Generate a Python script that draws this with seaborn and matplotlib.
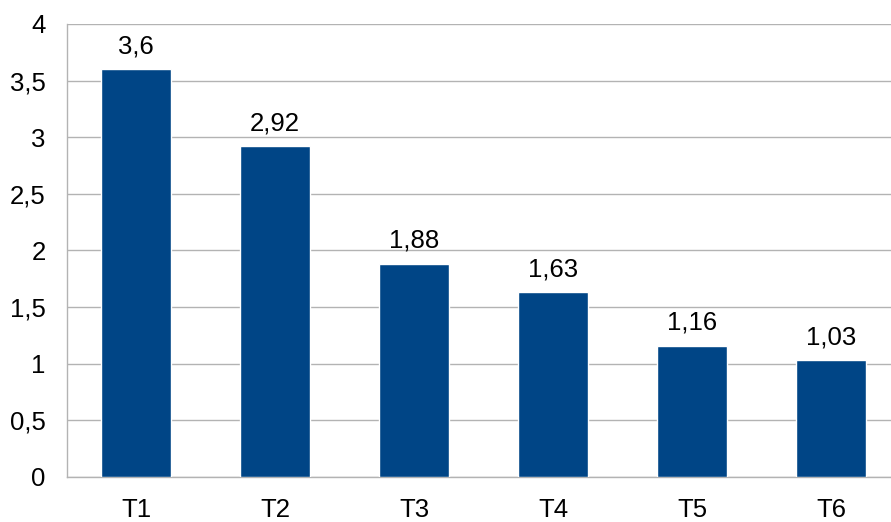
import matplotlib
matplotlib.use("Agg")
import matplotlib.pyplot as plt
import seaborn as sns
import pandas as pd
import numpy as np

categories = ["T1", "T2", "T3", "T4", "T5", "T6"]
values = [3.6, 2.92, 1.88, 1.63, 1.16, 1.03]
value_labels = ["3,6", "2,92", "1,88", "1,63", "1,16", "1,03"]
y_ticks = [0, 0.5, 1, 1.5, 2, 2.5, 3, 3.5, 4]
y_tick_labels = ["0", "0,5", "1", "1,5", "2", "2,5", "3", "3,5", "4"]

df = pd.DataFrame({"cat": categories, "val": values})

sns.set_style("white")
plt.rcParams['font.family'] = ['Liberation Sans', 'DejaVu Sans']
plt.rcParams['text.color'] = 'black'
plt.rcParams['xtick.labelcolor'] = 'black'
plt.rcParams['ytick.labelcolor'] = 'black'
fs = 18.5

fig = plt.figure(figsize=(8.91, 5.22), dpi=100)
ax = fig.add_axes([66.5 / 891, 45 / 522, 834 / 891, 453 / 522])

sns.barplot(data=df, x="cat", y="val", color="#004586", width=0.5, saturation=1, ax=ax, zorder=3)

ax.set_xlim(-0.5, 5.5)
ax.set_ylim(0, 4)
ax.set_yticks(y_ticks)
ax.set_yticklabels(y_tick_labels, fontsize=fs)
ax.set_xlabel("")
ax.set_ylabel("")
ax.yaxis.grid(True, color="#b3b3b3", linewidth=1, zorder=0)
ax.set_axisbelow(True)

# x ticks at category boundaries, labels centred
ax.set_xticks(np.arange(-0.5, 6, 1))
ax.set_xticklabels([""] * 7)
ax.set_xticks(np.arange(6), minor=True)
ax.set_xticklabels(categories, minor=True, fontsize=fs)
ax.tick_params(axis="x", which="major", length=8, width=1, color="#b3b3b3", direction="out")
ax.tick_params(axis="x", which="minor", length=0, pad=15, labelcolor="black")
ax.tick_params(axis="y", length=8, width=1, color="#b3b3b3", direction="out", pad=7, labelcolor="black")

for s in ["top", "right"]:
    ax.spines[s].set_visible(False)
for s in ["left", "bottom"]:
    ax.spines[s].set_color("#b3b3b3")
    ax.spines[s].set_linewidth(1)

ax.bar_label(ax.containers[0], labels=value_labels, padding=8, fontsize=fs, color="black")

fig.savefig("out.png", dpi=100)
